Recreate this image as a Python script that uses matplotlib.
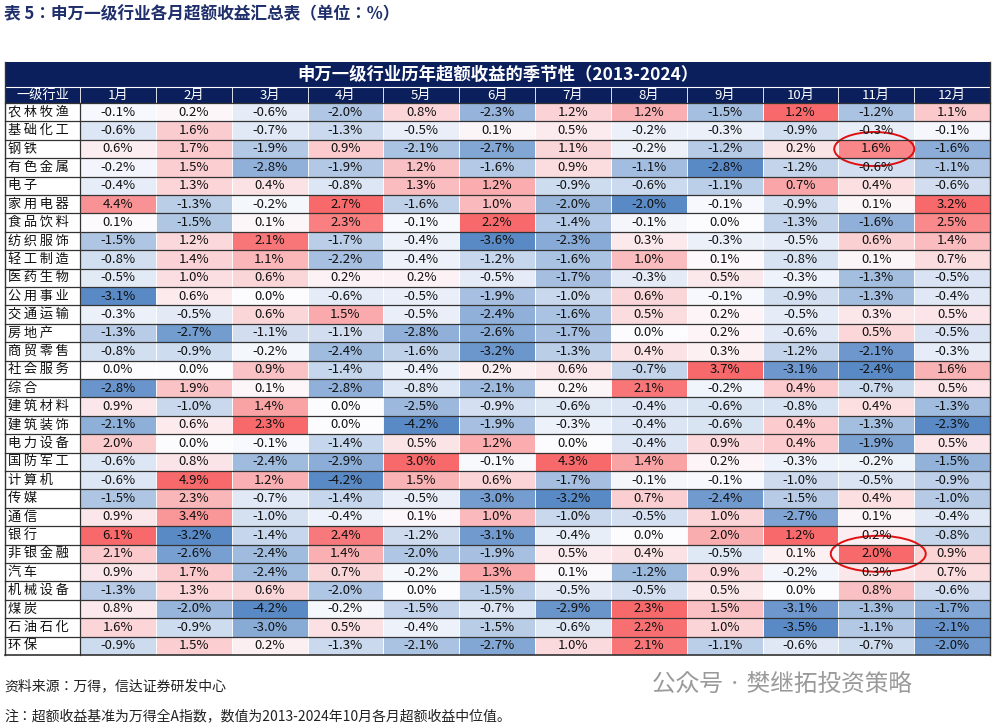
import matplotlib
matplotlib.use("Agg")
import matplotlib.pyplot as plt
from matplotlib.patches import Rectangle, Ellipse
from matplotlib import font_manager
import numpy as np

names = {f.name for f in font_manager.fontManager.ttflist}
cands = [n for n in ["Noto Sans CJK SC", "Noto Sans CJK JP", "Noto Sans CJK TC", "Noto Sans CJK KR", "Noto Sans SC"] if n in names]
plt.rcParams["font.family"] = cands + ["DejaVu Sans"]

months = ["1月","2月","3月","4月","5月","6月","7月","8月","9月","10月","11月","12月"]
industries = ["农林牧渔","基础化工","钢铁","有色金属","电子","家用电器","食品饮料","纺织服饰","轻工制造","医药生物",
              "公用事业","交通运输","房地产","商贸零售","社会服务","综合","建筑材料","建筑装饰","电力设备","国防军工",
              "计算机","传媒","通信","银行","非银金融","汽车","机械设备","煤炭","石油石化","环保"]
values = [
 [-0.1,0.2,-0.6,-2.0,0.8,-2.3,1.2,1.2,-1.5,1.2,-1.2,1.1],
 [-0.6,1.6,-0.7,-1.3,-0.5,0.1,0.5,-0.2,-0.3,-0.9,-0.3,-0.1],
 [0.6,1.7,-1.9,0.9,-2.1,-2.7,1.1,-0.2,-1.2,0.2,1.6,-1.6],
 [-0.2,1.5,-2.8,-1.9,1.2,-1.6,0.9,-1.1,-2.8,-1.2,-0.6,-1.1],
 [-0.4,1.3,0.4,-0.8,1.3,1.2,-0.9,-0.6,-1.1,0.7,0.4,-0.6],
 [4.4,-1.3,-0.2,2.7,-1.6,1.0,-2.0,-2.0,-0.1,-0.9,0.1,3.2],
 [0.1,-1.5,0.1,2.3,-0.1,2.2,-1.4,-0.1,0.0,-1.3,-1.6,2.5],
 [-1.5,1.2,2.1,-1.7,-0.4,-3.6,-2.3,0.3,-0.3,-0.5,0.6,1.4],
 [-0.8,1.4,1.1,-2.2,-0.4,-1.2,-1.6,1.0,0.1,-0.8,0.1,0.7],
 [-0.5,1.0,0.6,0.2,0.2,-0.5,-1.7,-0.3,0.5,-0.3,-1.3,-0.5],
 [-3.1,0.6,0.0,-0.6,-0.5,-1.9,-1.0,0.6,-0.1,-0.9,-1.3,-0.4],
 [-0.3,-0.5,0.6,1.5,-0.5,-2.4,-1.6,0.5,0.2,-0.5,0.3,0.5],
 [-1.3,-2.7,-1.1,-1.1,-2.8,-2.6,-1.7,0.0,0.2,-0.6,0.5,-0.5],
 [-0.8,-0.9,-0.2,-2.4,-1.6,-3.2,-1.3,0.4,0.3,-1.2,-2.1,-0.3],
 [0.0,0.0,0.9,-1.4,-0.4,0.2,0.6,-0.7,3.7,-3.1,-2.4,1.6],
 [-2.8,1.9,0.1,-2.8,-0.8,-2.1,0.2,2.1,-0.2,0.4,-0.7,0.5],
 [0.9,-1.0,1.4,0.0,-2.5,-0.9,-0.6,-0.4,-0.6,-0.8,0.4,-1.3],
 [-2.1,0.6,2.3,0.0,-4.2,-1.9,-0.3,-0.4,-0.6,0.4,-1.3,-2.3],
 [2.0,0.0,-0.1,-1.4,0.5,1.2,0.0,-0.4,0.9,0.4,-1.9,0.5],
 [-0.6,0.8,-2.4,-2.9,3.0,-0.1,4.3,1.4,0.2,-0.3,-0.2,-1.5],
 [-0.6,4.9,1.2,-4.2,1.5,0.6,-1.7,-0.1,-0.1,-1.0,-0.5,-0.9],
 [-1.5,2.3,-0.7,-1.4,-0.5,-3.0,-3.2,0.7,-2.4,-1.5,0.4,-1.0],
 [0.9,3.4,-1.0,-0.4,0.1,1.0,-1.0,-0.5,1.0,-2.7,0.1,-0.4],
 [6.1,-3.2,-1.4,2.4,-1.2,-3.1,-0.4,0.0,2.0,1.2,0.2,-0.8],
 [2.1,-2.6,-2.4,1.4,-2.0,-1.9,0.5,0.4,-0.5,0.1,2.0,0.9],
 [0.9,1.7,-2.4,0.7,-0.2,1.3,0.1,-1.2,0.9,-0.2,0.3,0.7],
 [-1.3,1.3,0.6,-2.0,0.0,-1.5,-0.5,-0.5,0.5,0.0,0.8,-0.6],
 [0.8,-2.0,-4.2,-0.2,-1.5,-0.7,-2.9,2.3,1.5,-3.1,-1.3,-1.7],
 [1.6,-0.9,-3.0,0.5,-0.4,-1.5,-0.6,2.2,1.0,-3.5,-1.1,-2.1],
 [-0.9,1.5,0.2,-1.3,-2.1,-2.7,1.0,2.1,-1.1,-0.6,-0.7,-2.0],
]

W, H = 996, 724
fig = plt.figure(figsize=(W/100, H/100), dpi=100)
ax = fig.add_axes([0, 0, 1, 1])
ax.set_xlim(0, W); ax.set_ylim(H, 0); ax.axis("off")

V = np.array(values)
red = np.array([248, 105, 107]) / 255
blue = np.array([90, 138, 198]) / 255
white = np.array([252, 252, 255]) / 255

def color(v, cmin, cmax):
    if v >= 0:
        t = v / cmax if cmax > 0 else 0
        return white + (red - white) * t
    t = v / cmin if cmin < 0 else 0
    return white + (blue - white) * t

navy = "#0B1F5C"
x0, x1 = 5, 990
c0w = 75
cw = (x1 - x0 - c0w) / 12
ty0, ty1 = 62, 87
hy1 = 103
rh = (655 - hy1) / len(industries)

ax.text(4, 14, "表 5：申万一级行业各月超额收益汇总表（单位：%）", fontsize=12, fontweight="bold",
        color="#1F2F6B", va="center", ha="left")

ax.add_patch(Rectangle((x0, ty0), x1 - x0, hy1 - ty0, facecolor=navy, edgecolor="none"))
ax.text((x0 + x1) / 2, (ty0 + ty1) / 2, "申万一级行业历年超额收益的季节性（2013-2024）", color="white",
        fontsize=12.5, fontweight="bold", ha="center", va="center")
ax.plot([x0, x1], [ty1, ty1], color="white", lw=0.8)
hx = [x0, x0 + c0w] + [x0 + c0w + cw * (i + 1) for i in range(12)]
ax.text(x0 + c0w / 2, (ty1 + hy1) / 2, "一级行业", color="white", fontsize=9.5, ha="center", va="center")
for j, m in enumerate(months):
    ax.text(x0 + c0w + cw * (j + 0.5), (ty1 + hy1) / 2, m, color="white", fontsize=9.5, ha="center", va="center")
    ax.plot([hx[j + 1], hx[j + 1]], [ty1, hy1], color="white", lw=0.6)

for j in range(12):
    cmin, cmax = V[:, j].min(), V[:, j].max()
    for i in range(len(industries)):
        y = hy1 + rh * i
        ax.add_patch(Rectangle((x0 + c0w + cw * j, y), cw, rh, facecolor=color(V[i, j], cmin, cmax),
                               edgecolor="white", lw=0.6))
        ax.text(x0 + c0w + cw * (j + 0.5), y + rh / 2, f"{V[i, j]:.1f}%", fontsize=9.5,
                ha="center", va="center", color="#111111")
for i, name in enumerate(industries):
    y = hy1 + rh * i
    ax.add_patch(Rectangle((x0, y), c0w, rh, facecolor="white", edgecolor="none"))
    ax.text(x0 + 3, y + rh / 2, "\u2009".join(name), fontsize=9.5, ha="left", va="center", color="#111111")
    ax.plot([x0, x1], [y, y], color="#333333", lw=0.9)
ax.plot([x0, x1], [655, 655], color="#333333", lw=1.2)
ax.plot([x0, x0], [ty0, 655], color="#333333", lw=1.0)
ax.plot([x1, x1], [ty0, 655], color="#333333", lw=1.0)
ax.plot([x0 + c0w, x0 + c0w], [hy1, 655], color="#333333", lw=0.9)

cx = x0 + c0w + cw * 10.5
ax.add_patch(Ellipse((cx - 2, hy1 + rh * 2.5), 80, 34, fill=False, edgecolor="#E01010", lw=1.4))
ax.add_patch(Ellipse((cx + 2, hy1 + rh * 24.5), 95, 36, fill=False, edgecolor="#E01010", lw=1.4))

ax.text(4, 686, "资料来源：万得，信达证券研发中心", fontsize=10, style="italic", ha="left", va="center", color="#222222")
ax.text(4, 716, "注：超额收益基准为万得全A指数，数值为2013-2024年10月各月超额收益中位值。", fontsize=10,
        style="italic", ha="left", va="center", color="#222222")
ax.text(652, 684, "公众号 · 樊继拓投资策略", fontsize=17, ha="left", va="center", color="#9A9A9A")

fig.savefig("out.png", dpi=100)
